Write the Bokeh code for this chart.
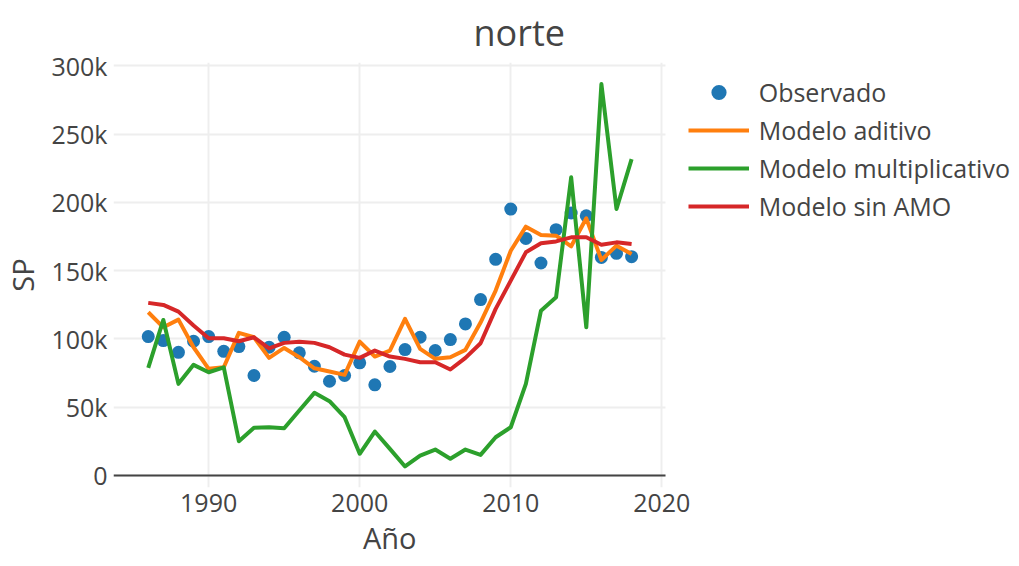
from bokeh.plotting import figure
from bokeh.models import Range1d, FixedTicker, Grid, Legend, LegendItem, Title
from bokeh.embed import file_html
from bokeh.resources import INLINE

# ---------------- data ----------------
title_text = "norte"
x_title = "Año"
y_title = "SP"

years = list(range(1986, 2019))

observado = [101.7, 98.8, 90.2, 98.3, 101.7, 90.9, 94.4, 73.2, 93.9, 101.2,
             89.8, 80.0, 69.0, 73.2, 82.5, 66.4, 79.8, 92.2, 101.2, 91.5,
             99.5, 111.0, 128.8, 158.3, 195.1, 173.6, 155.6, 180.0, 192.2, 190.2,
             159.7, 162.7, 160.2]

modelo_aditivo = [119.5, 108.5, 114.1, 93.9, 78.1, 79.2, 104.4, 101.2, 86.1, 93.4,
                  86.6, 78.5, 76.1, 73.7, 98.0, 87.1, 91.5, 114.7, 92.7, 85.4,
                  86.6, 92.0, 112.0, 135.4, 164.6, 182.2, 176.1, 175.6, 167.8, 188.3,
                  157.8, 168.3, 162.2]

modelo_multiplicativo = [78.8, 113.9, 67.1, 81.0, 75.6, 79.2, 25.1, 34.9, 35.3, 34.6,
                         47.6, 60.5, 54.4, 42.7, 15.9, 32.2, 19.5, 6.6, 14.6, 19.0,
                         12.2, 19.0, 15.1, 28.0, 35.3, 67.1, 120.7, 130.5, 218.3, 108.5,
                         286.6, 195.1, 231.7]

modelo_sin_amo = [126.4, 124.9, 120.0, 109.8, 100.5, 100.5, 98.3, 101.2, 93.1, 97.1,
                  98.0, 97.1, 93.9, 88.5, 86.1, 91.5, 87.1, 85.4, 82.9, 82.9,
                  77.6, 86.1, 96.8, 122.0, 142.7, 163.4, 170.0, 171.4, 174.4, 174.4,
                  169.0, 170.7, 169.5]

series_names = ["Observado", "Modelo aditivo", "Modelo multiplicativo", "Modelo sin AMO"]
series_colors = ["#1f77b4", "#ff7f0e", "#2ca02c", "#d62728"]

x_ticks = [1990, 2000, 2010, 2020]
y_ticks = [0, 50000, 100000, 150000, 200000, 250000, 300000]
y_tick_labels = ["0", "50k", "100k", "150k", "200k", "250k", "300k"]

# ---------------- layout ----------------
FONT = "Open Sans"
TXT = "#444444"
W, H = 1019, 566
BL, BT, BB = 112, 62, 79         # left / top / bottom borders
PLOT_R = 665                     # visible plot box right edge (px)
FW, FH = W - BL, H - BT - BB     # frame runs to the right edge (room for legend)
XV0, XV1 = 1983.7, 2020.27       # visible x extent
YV0, YV1 = -8800, 302400         # y extent
sx = (PLOT_R - BL) / (XV1 - XV0)
X1 = XV0 + FW / sx

p = figure(width=W, height=H, output_backend="svg", toolbar_location=None,
           title=None,
           x_range=Range1d(XV0, X1), y_range=Range1d(YV0, YV1),
           min_border_left=BL, min_border_right=0,
           min_border_top=BT, min_border_bottom=BB)
p.outline_line_color = None
p.background_fill_color = "white"
p.border_fill_color = "white"

p.title = Title(text=title_text, align="left", offset=360, vertical_align="middle",
                standoff=9, text_font=FONT, text_font_size="36px",
                text_font_style="normal", text_color=TXT)

for ax in (p.xaxis, p.yaxis):
    ax.axis_line_color = None
    ax.major_tick_line_color = None
    ax.minor_tick_line_color = None
    ax.major_label_text_font = FONT
    ax.major_label_text_font_size = "25px"
    ax.major_label_text_color = TXT
    ax.axis_label_text_font = FONT
    ax.axis_label_text_font_size = "29px"
    ax.axis_label_text_font_style = "normal"
    ax.axis_label_text_color = TXT

p.yaxis.axis_label = y_title
p.xaxis.bounds = (XV0, XV1)
p.xaxis.ticker = FixedTicker(ticks=x_ticks)
p.yaxis.ticker = FixedTicker(ticks=y_ticks)
p.yaxis.major_label_overrides = {t: l for t, l in zip(y_ticks, y_tick_labels)}
p.xaxis.major_label_standoff = 0
p.yaxis.major_label_standoff = 0
p.yaxis.axis_label_standoff = 6

# x-axis title, centred under the visible plot box
p.add_layout(Title(text=x_title, align="left", offset=249.5, vertical_align="bottom",
                   standoff=3, text_font=FONT, text_font_size="29px",
                   text_font_style="normal", text_color=TXT), "below")

p.xgrid.ticker = FixedTicker(ticks=x_ticks)
p.ygrid.ticker = FixedTicker(ticks=y_ticks)
p.ygrid.cross_bounds = (XV0, XV1)
for g in (p.xgrid, p.ygrid):
    g.grid_line_color = "#eeeeee"
    g.grid_line_width = 2

zero_line = Grid(dimension=1, ticker=FixedTicker(ticks=[0]), cross_bounds=(XV0, XV1),
                 grid_line_color="#444444", grid_line_width=2)
p.add_layout(zero_line)

r0 = p.scatter(years, [v * 1000 for v in observado], size=13,
               color=series_colors[0], line_color=None)
renderers = [r0]
for vals, col in zip([modelo_aditivo, modelo_multiplicativo, modelo_sin_amo], series_colors[1:]):
    r = p.line(years, [v * 1000 for v in vals], line_color=col, line_width=4,
               line_join="round")
    renderers.append(r)

ITEM_H = 38
legend = Legend(items=[LegendItem(label=n, renderers=[r]) for n, r in zip(series_names, renderers)],
                location=(686.7 - BL, FH - (73 - BT) - 4 * ITEM_H),
                orientation="vertical",
                label_text_font=FONT, label_text_font_size="25px", label_text_color=TXT,
                glyph_width=61, glyph_height=ITEM_H, label_height=ITEM_H, label_standoff=10,
                spacing=0, padding=0, margin=0,
                border_line_color=None, background_fill_alpha=0)
p.add_layout(legend, "center")

open("out.html", "w").write(file_html(p, INLINE))
